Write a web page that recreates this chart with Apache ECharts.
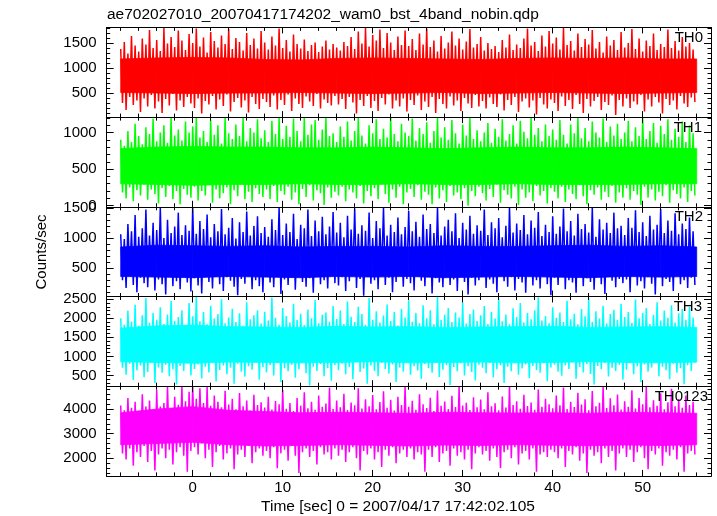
<!DOCTYPE html>
<html><head><meta charset="utf-8">
<script src="https://cdn.jsdelivr.net/npm/echarts@6/dist/echarts.min.js"></script>
<style>html,body{margin:0;padding:0;background:#fff}#c{width:717px;height:516px}</style>
</head><body><div id="c"></div>
<script>
// ---- data (time bins: start -8 s, 0.4 s wide; each bin has a high sample then a low sample) ----
const binStart = -8, binStep = 0.4;
// dense core of each band, read every 4 s from -8 s to 56 s
const coreStart = -8, coreStep = 4;
const chartTitle = 'ae702027010_20070417174202_wam0_bst_4band_nobin.qdp';
const xTitle = 'Time [sec] 0 = 2007/04/17 17:42:02.105';
const yTitle = 'Counts/sec';
const panelNames = ['TH0', 'TH1', 'TH2', 'TH3', 'TH0123'];
const xTicks = [0, 10, 20, 30, 40, 50];
const th0Ticks = [500, 1000, 1500];
const th1Ticks = [0, 500, 1000];
const th2Ticks = [500, 1000, 1500];
const th3Ticks = [500, 1000, 1500, 2000, 2500];
const th0123Ticks = [2000, 3000, 4000];

const th0Hi = [1380,1520,1290,1640,1450,1330,1590,1470,1760,1400,1560,1340,1800,1490,1620,1420,1750,1550,1360,1680,
1500,1790,1430,1610,1310,1720,1540,1410,1650,1480,1780,1380,1600,1520,1350,1700,1460,1590,1390,1740,
1510,1370,1630,1450,1790,1400,1560,1330,1670,1480,1390,1570,1340,1460,1510,1320,1430,1550,1370,1480,
1410,1350,1520,1440,1620,1380,1730,1490,1800,1430,1660,1550,1770,1400,1700,1510,1360,1630,1460,1750,
1440,1580,1360,1690,1470,1790,1420,1550,1330,1640,1390,1510,1730,1450,1590,1370,1530,1780,1410,1480,
1620,1350,1500,1380,1440,1320,1560,1410,1670,1360,1470,1400,1590,1790,1450,1520,1340,1650,1430,1740,
1490,1610,1370,1800,1460,1540,1350,1690,1420,1580,1470,1760,1390,1520,1310,1630,1450,1560,1360,1720,
1410,1500,1780,1380,1590,1330,1550,1440,1690,1360,1480,1420,1770,1400,1540,1350,1620,1430,1500,1370];
const th0Lo = [300,160,420,260,350,120,390,230,460,190,330,100,380,250,480,150,350,220,420,290,
200,390,90,340,270,440,170,370,240,470,130,320,400,210,350,110,420,280,180,380,
320,220,450,170,360,260,470,140,390,280,200,430,330,240,480,190,370,300,250,440,
270,380,180,420,310,90,360,240,440,200,340,140,400,270,470,190,350,230,390,130,
360,260,450,160,330,220,420,100,380,280,190,430,250,350,140,400,290,200,460,230,
340,190,410,280,220,470,150,360,260,420,120,330,390,210,350,70,400,270,190,370,
300,140,430,240,360,180,460,280,100,380,230,340,420,160,320,260,450,60,360,230,
390,200,330,270,460,130,370,230,420,310,90,380,260,350,170,440,290,220,410,320];
const th0CoreLo = [510,500,490,500,500,510,500,490,500,510,490,500,510,500,490,500,510];
const th0CoreHi = [1180,1200,1210,1200,1170,1160,1190,1200,1190,1180,1170,1190,1200,1190,1200,1180,1180];

const th1Hi = [900,820,1020,870,1120,950,840,1070,980,1190,880,1000,1100,860,1200,960,1040,890,1150,1000,
1080,1200,930,1020,870,1170,970,1100,850,1200,990,910,1110,950,1200,880,1060,1000,1180,920,
1030,870,1160,980,1200,910,1090,940,1190,1020,880,1200,970,1110,1170,900,1040,1200,950,990,
870,1080,940,1150,890,1020,1200,960,850,1100,990,1180,910,1050,930,1200,980,880,1120,1000,
950,1190,890,1060,980,1140,860,1020,1200,930,1070,900,1170,990,850,1110,960,1200,910,1030,
880,1000,1130,860,1050,940,1180,890,980,1100,850,1160,1010,920,1200,970,1060,880,1110,950,
1040,900,1170,970,850,1110,990,1200,920,1060,880,1150,1000,930,1190,870,1080,960,1120,910,
1000,1160,880,1070,950,1200,910,1020,1130,860,1090,980,1180,900,1050,940,1150,870,1100,990];
const th1Lo = [180,100,250,60,210,140,290,80,220,160,30,240,120,270,90,200,20,230,150,110,
260,70,200,140,280,40,220,100,170,250,20,210,130,300,90,190,50,240,160,120,
220,90,270,50,200,150,260,80,180,20,230,120,280,70,210,170,10,250,110,190,
140,260,60,220,180,100,270,30,200,130,240,90,290,160,40,220,110,260,20,180,
230,120,280,80,190,150,20,250,100,210,50,270,140,180,90,240,0,200,130,260,
170,70,230,120,290,40,210,150,100,260,10,220,110,180,60,270,140,200,30,240,
190,100,260,50,220,160,90,280,130,20,210,150,250,80,190,120,270,40,180,110,
240,80,200,150,10,260,110,220,70,190,130,280,40,210,160,100,250,50,200,140];
const th1CoreLo = [300,290,280,290,290,300,290,290,300,290,290,300,290,290,290,300,300];
const th1CoreHi = [780,800,810,800,800,790,790,800,790,780,790,800,790,790,800,790,780];

const th2Hi = [1060,980,1230,1110,1380,1020,1160,1470,1040,1250,1130,1500,1000,1300,1080,1190,1420,1050,1210,1120,
1510,1070,1280,1150,1390,1010,1230,1110,1480,1060,1170,1330,990,1260,1100,1440,1040,1200,1360,1080,
1180,1020,1310,1130,1500,1050,1240,1100,1400,980,1220,1160,1470,1030,1290,1110,1350,1060,1190,1430,
1090,1250,1010,1370,1140,1490,1070,1210,1120,1420,1000,1280,1160,1510,1040,1220,1100,1340,1060,1180,
1450,1110,1270,1020,1390,1150,1230,1080,1500,1040,1190,1300,1110,1410,1000,1250,1140,1370,1070,1210,
1120,1470,1050,1260,1160,1330,1010,1200,1510,1090,1240,1130,1380,1060,1290,1170,1430,1030,1220,1100,
1360,1070,1190,1490,1110,1280,1040,1400,1150,1230,1090,1510,1020,1310,1140,1250,1080,1420,1160,1200,
1050,1330,1170,1460,1100,1260,1030,1370,1140,1220,1480,1080,1290,1120,1410,1060,1240,1150,1340,1110];
const th2Lo = [300,170,380,220,100,340,250,180,400,130,310,230,60,360,200,280,150,390,260,110,
330,210,80,370,270,160,410,230,120,350,290,190,50,320,240,380,150,300,200,100,
360,260,180,390,70,310,220,340,140,400,270,190,330,90,370,230,300,160,380,250,
210,350,120,280,390,170,320,40,360,240,300,150,410,220,340,100,270,380,190,320,
250,130,370,290,200,410,80,330,260,180,390,220,310,120,360,270,60,340,210,300,
380,170,310,240,100,400,280,190,350,130,320,260,90,390,210,300,160,370,230,50,
340,220,390,150,300,260,90,370,200,330,270,140,400,230,70,360,290,180,320,250,
310,100,380,210,280,160,350,240,60,390,200,320,270,120,370,230,300,170,340,220];
const th2CoreLo = [360,350,340,360,350,340,360,350,360,340,350,360,350,340,360,350,360];
const th2CoreHi = [850,880,870,860,870,850,860,860,850,870,860,860,870,880,860,870,850];

const th3Hi = [2000,1830,2200,1910,2350,1800,2080,2530,1880,2140,1960,2290,1850,2100,2450,1930,2030,2210,1820,2400,
2050,2560,1920,2160,1840,2330,1990,2110,2500,1870,2020,2250,1900,2130,1800,2420,1970,2080,2210,1860,
2170,1940,2540,2010,1830,2270,2060,1890,2380,1950,2120,1820,2230,2000,2480,1870,2090,2150,1910,2320,
1980,2200,1850,2440,2040,1900,2300,2110,1830,2530,1960,2180,1890,2070,2360,1930,2160,1810,2250,2020,
2470,1910,2140,1870,2340,2000,2210,1840,2560,1950,2090,2270,1900,2150,2020,2410,1860,2110,2230,1930,
2080,2320,1850,2170,1990,2510,1920,2100,1840,2260,2030,2400,1890,2140,1970,2210,2550,1940,2060,1870,
2290,2010,2150,1900,2460,1970,2120,1840,2240,2050,2530,1910,2180,1990,2330,1860,2110,2220,1950,2380,
2030,2160,1880,2490,2000,2140,2270,1850,2090,2420,1940,2200,2010,2340,1890,2130,2240,1960,2300,2020];
const th3Lo = [700,520,810,380,640,760,450,590,840,300,710,570,780,480,660,260,750,620,830,500,
670,790,420,730,580,860,340,640,760,530,700,280,810,600,470,740,650,850,390,720,
580,770,500,830,320,690,610,780,440,660,840,560,240,730,620,800,480,690,360,770,
640,810,530,720,400,850,590,680,280,760,620,480,830,670,550,790,330,710,600,860,
520,740,630,410,800,690,570,850,460,650,770,250,720,610,820,500,740,590,370,780,
700,560,830,450,660,770,300,730,610,840,520,680,790,430,750,640,570,820,350,710,
780,600,490,760,670,840,410,720,580,800,540,260,750,660,830,470,700,620,780,390,
650,820,530,740,320,790,600,710,860,480,730,640,400,810,570,690,270,770,620,830];
const th3CoreLo = [860,840,820,850,840,830,840,860,830,840,850,830,840,860,840,830,850];
const th3CoreHi = [1740,1800,1820,1780,1770,1760,1790,1770,1780,1760,1770,1780,1790,1760,1770,1780,1760];

const th0123Hi = [4150,3950,4450,4050,4300,3900,4600,4100,4350,3980,4780,4100,4250,4900,4020,4500,4180,4920,4320,4700,
4920,4420,4850,4250,4910,4130,4550,4300,4070,4750,4190,4420,3990,4650,4110,4350,3940,4580,4170,4280,
4060,4500,3980,4330,4200,4780,4010,4250,3920,4450,4140,4680,4030,4300,3970,4550,4090,4230,4880,4000,
4350,4070,4620,3960,4270,4160,4850,4020,4400,4110,4570,3990,4290,4720,4050,4380,3940,4500,4170,4920,
4090,4340,3970,4600,4200,4040,4460,3920,4760,4130,4310,4000,4540,4080,4900,4150,4260,3960,4480,4070,
4390,3990,4680,4110,4240,3950,4510,4060,4920,4170,4320,4010,4580,4120,4270,3970,4800,4090,4420,4200,
4030,4550,4150,4880,4000,4300,4080,4660,4190,4400,3950,4730,4110,4260,4920,4040,4440,4160,4590,3980,
4320,4090,4770,4020,4450,4200,4900,4070,4360,4130,4640,3990,4280,4830,4110,4410,4050,4550,4170,4300];
const th0123Lo = [2200,1950,2400,1700,2250,2050,2500,1850,2300,1500,2150,2400,2000,2350,1750,2250,2450,2100,1450,2300,
2450,2150,2600,2000,2350,1650,2250,2500,1950,2200,2400,1550,2150,2350,2050,2500,1800,2250,2400,2100,
2300,2000,2450,1600,2200,2350,1900,2500,2100,1400,2250,2400,2050,2300,1750,2450,2150,2250,1950,2400,
2100,2350,1850,2250,2450,2000,1500,2300,2150,2400,1950,2250,1650,2350,2100,2450,1800,2200,2350,2050,
2400,1950,2250,2150,1450,2350,2050,2450,1850,2200,2300,1700,2400,2100,2250,1950,2350,1550,2200,2450,
2150,2300,1900,2400,2050,1600,2250,2350,2000,2450,1750,2200,2300,1950,2400,1450,2150,2250,2050,2350,
2250,2000,2400,1650,2300,2150,2450,1900,2200,1400,2350,2100,2250,1800,2400,2050,2300,1500,2200,2400,
2050,2350,1850,2250,2450,2000,1550,2300,2150,2400,1700,2250,2100,2350,1950,2450,1450,2200,2300,2150];
const th0123CoreLo = [2550,2600,2650,2550,2500,2520,2550,2530,2500,2540,2520,2550,2530,2510,2540,2520,2550];
const th0123CoreHi = [3850,4000,4100,3950,3900,3850,3870,3850,3830,3870,3850,3840,3850,3830,3870,3850,3830];

// ---- layout / style ----
const FONT = '"Liberation Sans", Arial, Helvetica, sans-serif';
const FS = 15;
const panels = [
  {name: panelNames[0], color: '#ff0000', hi: th0Hi, lo: th0Lo, cLo: th0CoreLo, cHi: th0CoreHi, min: 20, max: 1810, ticks: th0Ticks, minorStep: 100, labelX: 703},
  {name: panelNames[1], color: '#00ff00', hi: th1Hi, lo: th1Lo, cLo: th1CoreLo, cHi: th1CoreHi, min: -15, max: 1210, ticks: th1Ticks, minorStep: 100, labelX: 702},
  {name: panelNames[2], color: '#0000ff', hi: th2Hi, lo: th2Lo, cLo: th2CoreLo, cHi: th2CoreHi, min: 28, max: 1517, ticks: th2Ticks, minorStep: 100, labelX: 703},
  {name: panelNames[3], color: '#00ffff', hi: th3Hi, lo: th3Lo, cLo: th3CoreLo, cHi: th3CoreHi, min: 218, max: 2570, ticks: th3Ticks, minorStep: 100, labelX: 702},
  {name: panelNames[4], color: '#ff00ff', hi: th0123Hi, lo: th0123Lo, cLo: th0123CoreLo, cHi: th0123CoreHi, min: 1283, max: 4931, ticks: th0123Ticks, minorStep: 200, labelX: 708}
];
const gridLeft = 106.7, gridRight = 6, gridTop = 27.4, gridH = 89.7;
const xMin = -9.556, xMax = 57.59;
const xMinor = [];
for (let v = -8; v <= 56; v += 2) xMinor.push(v);

function zigzag(hi, lo) {
  const d = [];
  for (let k = 0; k < hi.length; k++) {
    const t = binStart + k * binStep;
    d.push([t, hi[k]]);
    d.push([t + binStep / 2, lo[k]]);
  }
  return d;
}
function coreSegments(lo, hi) {
  const d = [];
  for (let k = 0; k + 1 < lo.length; k++) {
    d.push([coreStart + k * coreStep, lo[k], hi[k], coreStart + (k + 1) * coreStep, lo[k + 1], hi[k + 1]]);
  }
  return d;
}

const lineStyle = {color: '#000', width: 1};
const fmt = v => String(v);
const grids = [], xAxes = [], yAxes = [], series = [], graphics = [];
panels.forEach((p, i) => {
  const last = i === panels.length - 1;
  const top = gridTop + i * gridH;
  const minorY = [];
  for (let v = Math.ceil(p.min / p.minorStep) * p.minorStep; v <= p.max; v += p.minorStep) minorY.push(v);
  [0, 1].forEach(layer => {
    const g = grids.length;
    grids.push({left: gridLeft, right: gridRight, top: top, height: gridH});
    const major = layer === 0;
    const xv = major ? xTicks : xMinor;
    const yv = major ? p.ticks : minorY;
    const xl = major ? 6 : 3.5;
    const yl = major ? 7 : 3.5;
    ['bottom', 'top'].forEach(pos => {
      xAxes.push({
        type: 'value', gridIndex: g, position: pos, min: xMin, max: xMax, z: 5,
        splitLine: {show: false},
        axisLine: {show: true, onZero: false, lineStyle},
        axisTick: {show: true, inside: true, length: xl, customValues: xv, lineStyle},
        axisLabel: {show: major && last && pos === 'bottom', customValues: xTicks, formatter: fmt, fontSize: FS, fontFamily: FONT, color: '#000', margin: 4}
      });
    });
    ['left', 'right'].forEach(pos => {
      yAxes.push({
        type: 'value', gridIndex: g, position: pos, min: p.min, max: p.max, z: 5,
        splitLine: {show: false},
        axisLine: {show: true, onZero: false, lineStyle},
        axisTick: {show: true, inside: true, length: yl, customValues: yv, lineStyle},
        axisLabel: {show: major && pos === 'left', customValues: p.ticks, formatter: fmt, fontSize: FS, fontFamily: FONT, color: '#000', margin: 10}
      });
    });
  });
  const col = p.color;
  series.push({
    type: 'custom', coordinateSystem: 'cartesian2d', xAxisIndex: 4 * i, yAxisIndex: 4 * i,
    data: coreSegments(p.cLo, p.cHi), encode: {x: [0, 3], y: [1, 2, 4, 5]},
    animation: false, silent: true, clip: true, z: 1,
    renderItem: (params, api) => {
      const a = api.coord([api.value(0), api.value(1)]);
      const b = api.coord([api.value(0), api.value(2)]);
      const c = api.coord([api.value(3), api.value(5)]);
      const d = api.coord([api.value(3), api.value(4)]);
      return {type: 'polygon', shape: {points: [a, b, c, d]}, style: {fill: col, stroke: col, lineWidth: 0.8}};
    }
  });
  series.push({
    type: 'line', xAxisIndex: 4 * i, yAxisIndex: 4 * i,
    data: zigzag(p.hi, p.lo), showSymbol: false, symbol: 'none',
    lineStyle: {color: col, width: 1.5}, itemStyle: {color: col},
    animation: false, silent: true, clip: true, z: 2
  });
  graphics.push({
    type: 'text', x: p.labelX, y: top + 10.3, z: 100,
    style: {text: p.name, textAlign: 'right', textVerticalAlign: 'middle', fontSize: FS, fontFamily: FONT, fill: '#000'}
  });
});

graphics.push({type: 'text', x: 107, y: 15, style: {text: chartTitle, textAlign: 'left', textVerticalAlign: 'middle', fontSize: 15.5, fontFamily: FONT, fill: '#000'}});
graphics.push({type: 'text', x: 398, y: 507, style: {text: xTitle, textAlign: 'center', textVerticalAlign: 'middle', fontSize: 15.5, fontFamily: FONT, fill: '#000'}});
graphics.push({type: 'text', x: 42, y: 252, rotation: Math.PI / 2, style: {text: yTitle, textAlign: 'center', textVerticalAlign: 'middle', fontSize: FS, fontFamily: FONT, fill: '#000'}});

const chart = echarts.init(document.getElementById('c'), null, {renderer: 'canvas'});
chart.setOption({
  animation: false,
  backgroundColor: '#fff',
  grid: grids,
  xAxis: xAxes,
  yAxis: yAxes,
  series: series,
  graphic: graphics
});
</script></body></html>
